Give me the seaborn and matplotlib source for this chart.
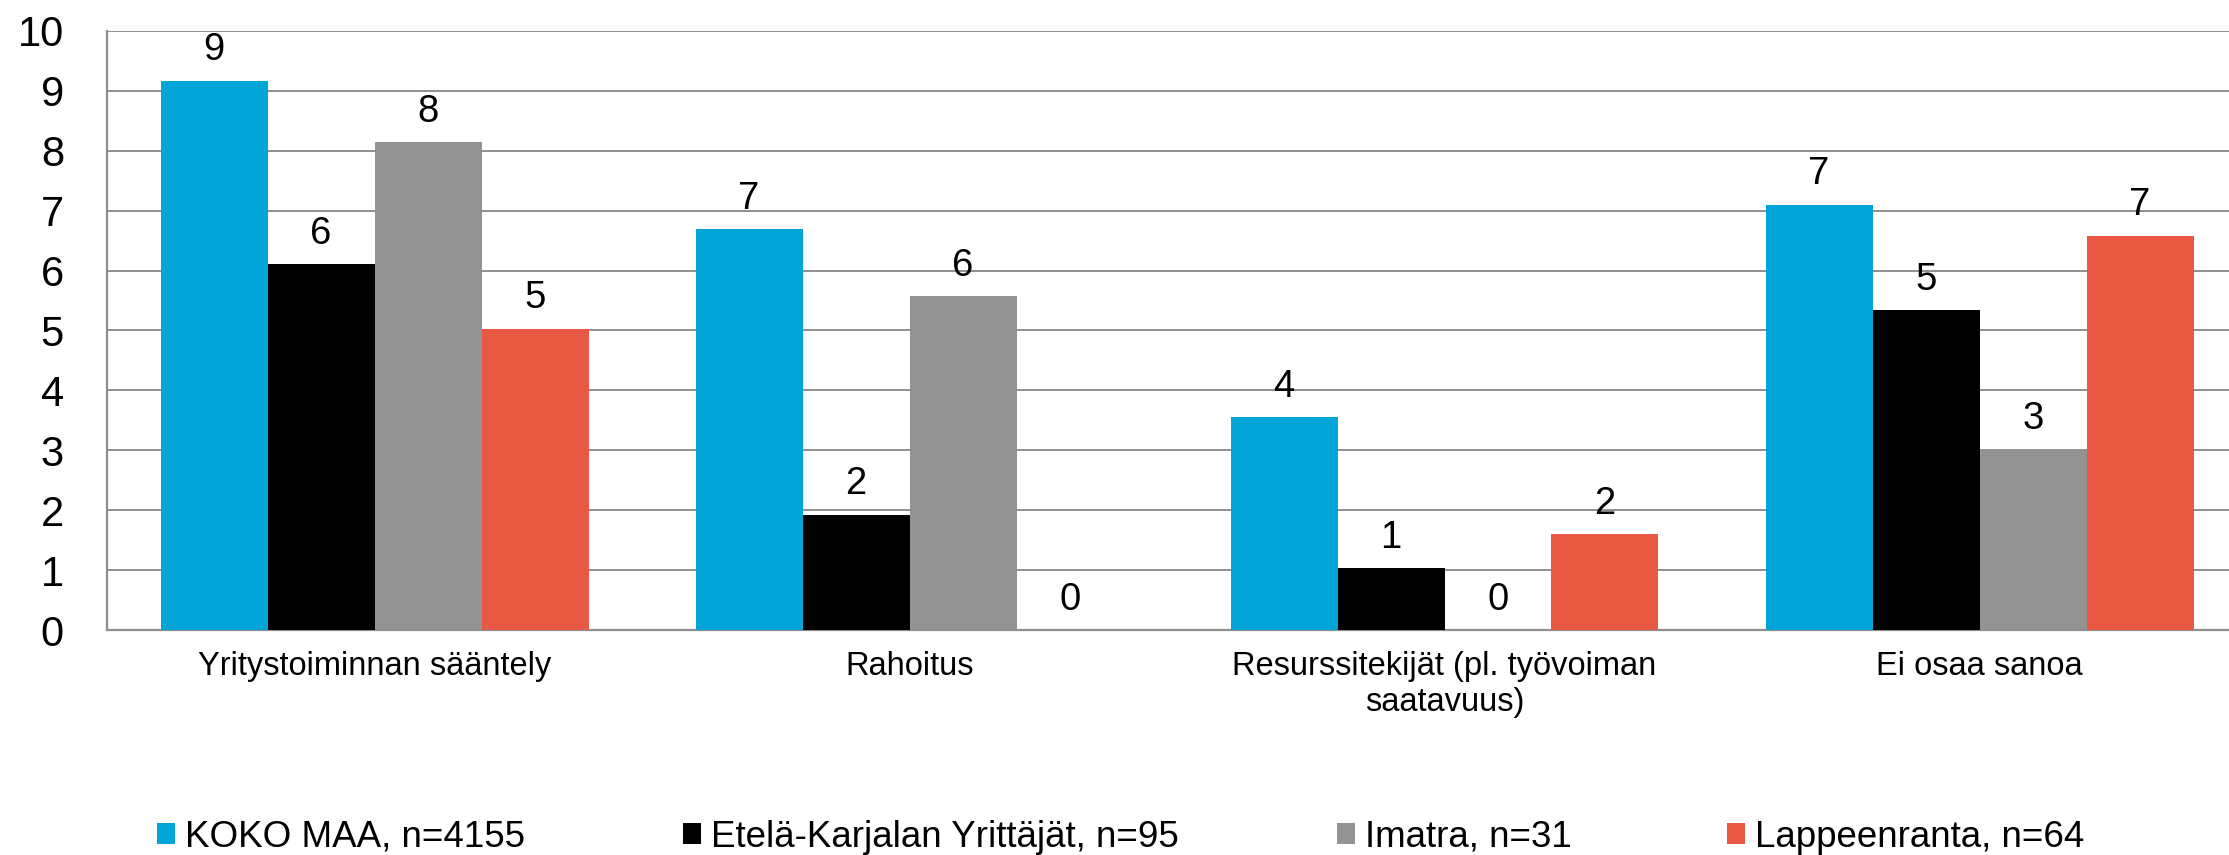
import matplotlib
matplotlib.use("Agg")
import matplotlib.pyplot as plt
import seaborn as sns
import pandas as pd

categories = ["Yritystoiminnan sääntely", "Rahoitus",
              "Resurssitekijät (pl. työvoiman\nsaatavuus)", "Ei osaa sanoa"]
series = ["KOKO MAA, n=4155", "Etelä-Karjalan Yrittäjät, n=95",
          "Imatra, n=31", "Lappeenranta, n=64"]
koko_maa = [9.17, 6.69, 3.55, 7.10]
etela_karjala = [6.11, 1.92, 1.03, 5.34]
imatra = [8.14, 5.57, 0.0, 3.02]
lappeenranta = [5.03, 0.0, 1.60, 6.58]
colors = ["#03A5D9", "#000000", "#939393", "#E85842"]
y_ticks = [0, 1, 2, 3, 4, 5, 6, 7, 8, 9, 10]

rows = []
for name, vals in zip(series, [koko_maa, etela_karjala, imatra, lappeenranta]):
    for cat, v in zip(categories, vals):
        rows.append({"category": cat, "series": name, "value": v})
df = pd.DataFrame(rows)

sns.set_theme(style="white")
plt.rcParams["font.family"] = ["Liberation Sans", "DejaVu Sans"]

W, H = 2229, 855
fig = plt.figure(figsize=(W / 100, H / 100), dpi=100)
ax = fig.add_axes([107 / W, 225 / H, 2140 / W, 599 / H])

sns.barplot(data=df, x="category", y="value", hue="series", order=categories,
            hue_order=series, palette=colors, saturation=1, errorbar=None,
            linewidth=0, width=0.8, ax=ax, zorder=3)

ax.set_ylim(0, 10)
ax.set_yticks(y_ticks)
ax.set_xlim(-0.5, len(categories) - 0.5)
ax.set_xlabel("")
ax.set_ylabel("")
ax.yaxis.grid(True, color="#8f8f8f", linewidth=1.4, zorder=0)
ax.set_axisbelow(True)
for s in ["top", "right"]:
    ax.spines[s].set_visible(False)
for s in ["left", "bottom"]:
    ax.spines[s].set_color("#8f8f8f")
    ax.spines[s].set_linewidth(1.6)
ax.tick_params(axis="y", length=0, pad=31, labelsize=30, labelcolor="black")
ax.tick_params(axis="x", length=0, pad=15, labelsize=23.5, labelcolor="black")
for lbl in ax.get_xticklabels():
    lbl.set_multialignment("center")

for cont in ax.containers:
    ax.bar_label(cont, fmt="{:.0f}", padding=9, fontsize=27.5, color="black")

handles, labels = ax.get_legend_handles_labels()
ax.get_legend().remove()

legend_x = [157, 683, 1337, 1727]
for h, l, x in zip(handles, labels, legend_x):
    fig.legend([h], [l], loc="center left", bbox_to_anchor=(x / W, 1 - 837 / H),
               frameon=False, fontsize=26.5, handlelength=0.5, handleheight=0.5,
               handletextpad=0.25, borderpad=0, borderaxespad=0,
               labelcolor="black")

fig.savefig("out.png", dpi=100)
